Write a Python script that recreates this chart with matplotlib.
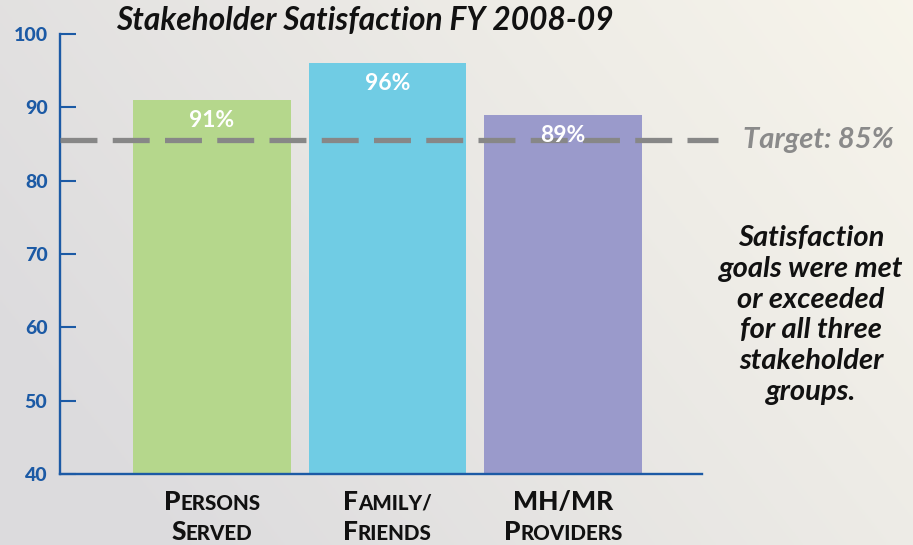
import numpy as np
import matplotlib
matplotlib.use("Agg")
import matplotlib.pyplot as plt
from matplotlib.offsetbox import TextArea, HPacker, AnnotationBbox

# ---- data ----
GROUPS = [["Persons", "Served"], ["Family/", "Friends"], ["MH/MR", "Providers"]]
SATISFACTION = [91, 96, 89]
VALUE_LABELS = ["91%", "96%", "89%"]
TARGET = 85.5                      # drawn slightly above 85 in the original
TARGET_LABEL = "Target: 85%"
YTICKS = [40, 50, 60, 70, 80, 90, 100]
YTICK_LABELS = ["40", "50", "60", "70", "80", "90", "100"]
BAR_COLORS = ["#b5d78c", "#70cce4", "#9a9acb"]

TITLE = "Stakeholder Satisfaction FY 2008-09"
NOTE = "Satisfaction\ngoals were met\nor exceeded\nfor all three\nstakeholder\ngroups."

FONT = "Lato"
AXIS_BLUE = "#1c5aa5"

W, H = 913, 545
fig = plt.figure(figsize=(W / 100, H / 100), dpi=100)

# background gradient (grey on the left, cream on the right)
bg = fig.add_axes([0, 0, 1, 1], zorder=-10)
xx, yy = np.meshgrid(np.linspace(0, 1, 300), np.linspace(0, 1, 200))
t = np.clip(0.75 * xx + 0.35 * (1 - yy) - 0.15, 0, 1)
c0 = np.array([0.866, 0.862, 0.870])
c1 = np.array([0.975, 0.965, 0.925])
img = c0[None, None, :] * (1 - t[..., None]) + c1[None, None, :] * t[..., None]
bg.imshow(img, aspect="auto", extent=[0, 1, 0, 1])
bg.axis("off")

# main axes: left spine at x=60px, baseline at y=474px, 100 at y=34px, right end 702px
ax = fig.add_axes([60 / W, (H - 474) / H, (702 - 60) / W, 440 / H])
ax.patch.set_alpha(0)

x = np.arange(len(SATISFACTION))
ax.bar(x, [v - 40 for v in SATISFACTION], bottom=40, width=0.9,
       color=BAR_COLORS, zorder=2)
for xi, v, lab in zip(x, SATISFACTION, VALUE_LABELS):
    ax.text(xi, v - 2.8, lab, ha="center", va="center", color="white",
            fontsize=16.5, fontweight="bold", family=FONT, zorder=4)

ax.set_xlim(-0.866, 2.792)
ax.set_ylim(40, 100)

ax.axhline(TARGET, xmin=0, xmax=(718 - 60) / 642, color="#878787", lw=3.8,
           dashes=(7.0, 2.9), clip_on=False, zorder=3)
ax.text((743 - 60) / 642, TARGET, TARGET_LABEL, transform=ax.get_yaxis_transform(),
        ha="left", va="center", color="#8a8a8a", fontsize=21,
        fontweight="bold", fontstyle="italic", family=FONT)

for s in ["top", "right"]:
    ax.spines[s].set_visible(False)
for s in ["left", "bottom"]:
    ax.spines[s].set_color(AXIS_BLUE)
    ax.spines[s].set_linewidth(1.7)
ax.set_yticks(YTICKS)
ax.set_yticklabels(YTICK_LABELS, fontweight="black", family=FONT, fontsize=14,
                   color=AXIS_BLUE)
ax.tick_params(axis="y", direction="in", length=11.5, width=1.5, color=AXIS_BLUE,
               pad=9)
ax.set_xticks([])

# small-caps category labels
def small_caps(word, big=19, small=14.8):
    runs, cur, cur_big = [], "", None
    for ch in word:
        is_big = ch.isupper() if ch.isalpha() else (cur_big if cur_big is not None else True)
        if cur_big is None or is_big == cur_big:
            cur += ch
        else:
            runs.append((cur, cur_big))
            cur = ch
        cur_big = is_big
    runs.append((cur, cur_big))
    parts = [TextArea(r.upper(), textprops=dict(fontsize=big if b else small,
                                                fontweight="black", family=FONT,
                                                color="#111111"))
             for r, b in runs]
    return HPacker(children=parts, align="baseline", pad=0, sep=0)

for xi, lines in zip(x, GROUPS):
    for li, word in enumerate(lines):
        ab = AnnotationBbox(small_caps(word), (xi, -0.063 - li * 0.068),
                            xycoords=("data", "axes fraction"),
                            frameon=False, box_alignment=(0.5, 0.5), pad=0)
        ax.add_artist(ab)

fig.text(365 / W, 1 - 21 / H, TITLE, ha="center", va="center", fontsize=22.8,
         fontweight="bold", fontstyle="italic", family=FONT, color="#111111")
fig.text(811 / W, 1 - 315 / H, NOTE, ha="center", va="center", fontsize=21,
         fontweight="bold", fontstyle="italic", family=FONT, color="#111111",
         linespacing=1.23)

fig.savefig("out.png", dpi=100)
